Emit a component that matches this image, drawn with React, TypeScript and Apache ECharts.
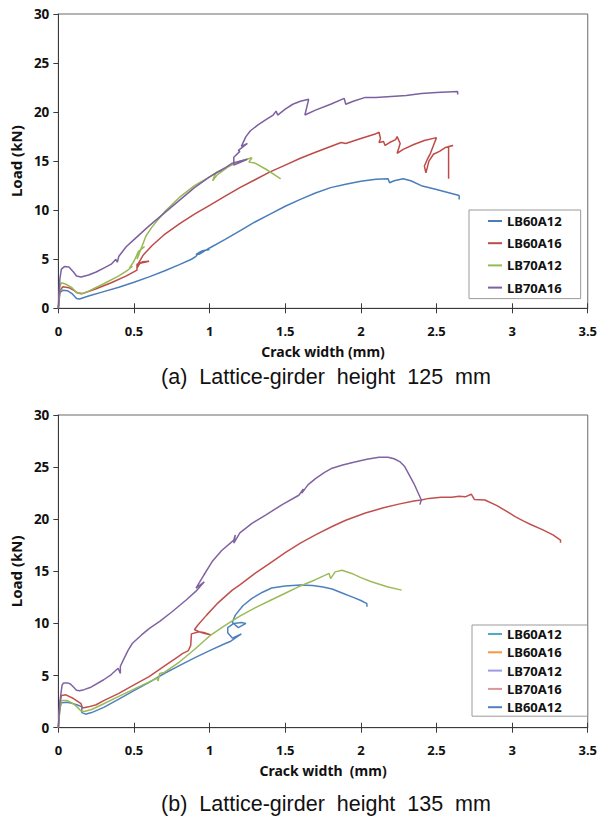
import React, { useEffect, useRef } from "react";
import * as echarts from "echarts";

// ---------- data: chart (a) height 125 mm ----------
const xTicks = [0, 0.5, 1, 1.5, 2, 2.5, 3, 3.5];
const yTicks = [0, 5, 10, 15, 20, 25, 30];

const topNames = ["LB60A12", "LB60A16", "LB70A12", "LB70A16"];
const topColors = ["#4a7ebb", "#be4b48", "#98b954", "#7d60a0"];

const topLB60A12: number[][] = [
  [0, 0], [0.01, 1.6], [0.03, 1.85], [0.06, 1.8], [0.09, 1.5], [0.12, 1.0], [0.14, 0.95], [0.2, 1.25],
  [0.3, 1.7], [0.4, 2.15], [0.5, 2.65], [0.6, 3.2], [0.7, 3.8], [0.8, 4.45], [0.88, 5.0], [0.91, 5.3],
  [0.93, 5.7], [0.96, 5.9], [1.0, 6.0], [0.95, 5.85], [0.91, 5.5], [0.93, 5.5], [1.0, 6.15], [1.1, 7.0],
  [1.2, 7.9], [1.3, 8.8], [1.4, 9.6], [1.5, 10.4], [1.6, 11.1], [1.7, 11.75], [1.8, 12.3], [1.9, 12.65],
  [2.0, 12.95], [2.1, 13.15], [2.18, 13.2], [2.19, 12.8], [2.22, 13.0], [2.28, 13.2], [2.33, 13.0],
  [2.4, 12.5], [2.5, 12.1], [2.6, 11.7], [2.65, 11.5], [2.65, 11.1],
];
const topLB60A16: number[][] = [
  [0, 0], [0.01, 1.8], [0.03, 2.2], [0.07, 2.1], [0.1, 1.85], [0.13, 1.55], [0.16, 1.5], [0.25, 2.0],
  [0.35, 2.6], [0.45, 3.3], [0.52, 3.9], [0.52, 4.5], [0.56, 4.75], [0.6, 4.8], [0.54, 4.6], [0.52, 4.1],
  [0.53, 4.6], [0.56, 5.4], [0.62, 6.4], [0.7, 7.5], [0.8, 8.6], [0.9, 9.6], [1.0, 10.5], [1.1, 11.4],
  [1.2, 12.3], [1.3, 13.1], [1.4, 13.9], [1.5, 14.6], [1.6, 15.3], [1.7, 15.9], [1.8, 16.5], [1.87, 16.9],
  [1.9, 16.8], [2.0, 17.3], [2.1, 17.8], [2.12, 17.95], [2.13, 17.3], [2.12, 16.9], [2.15, 17.0],
  [2.16, 16.6], [2.19, 16.9], [2.23, 17.2], [2.24, 17.5], [2.26, 16.8], [2.24, 15.8], [2.28, 16.2],
  [2.35, 16.7], [2.42, 17.1], [2.5, 17.4], [2.48, 16.6], [2.46, 15.8], [2.44, 15.2], [2.42, 14.5],
  [2.43, 13.8], [2.45, 15.0], [2.48, 15.7], [2.52, 16.0], [2.56, 16.4], [2.61, 16.6], [2.58, 16.5],
  [2.58, 13.2],
];
const topLB70A12: number[][] = [
  [0, 0], [0.01, 2.2], [0.02, 2.6], [0.05, 2.45], [0.09, 2.1], [0.12, 1.6], [0.15, 1.45], [0.2, 1.75],
  [0.3, 2.5], [0.4, 3.3], [0.46, 3.9], [0.49, 4.3], [0.47, 4.1], [0.5, 4.8], [0.53, 5.8], [0.57, 6.3],
  [0.54, 5.9], [0.52, 5.0], [0.55, 6.2], [0.58, 7.4], [0.62, 8.3], [0.7, 9.8], [0.8, 11.3], [0.9, 12.5],
  [1.0, 13.4], [1.05, 13.9], [1.08, 14.1], [1.04, 13.8], [1.02, 13.0], [1.05, 13.6], [1.12, 14.4],
  [1.2, 15.0], [1.28, 15.35], [1.26, 14.9], [1.3, 14.8], [1.37, 14.2], [1.43, 13.6], [1.47, 13.2],
];
const topLB70A16: number[][] = [
  [0, 0], [0.01, 3.0], [0.02, 4.0], [0.04, 4.25], [0.07, 4.2], [0.1, 3.7], [0.12, 3.3], [0.15, 3.2],
  [0.2, 3.4], [0.25, 3.7], [0.3, 4.1], [0.35, 4.5], [0.38, 5.0], [0.39, 4.7], [0.4, 5.3], [0.45, 6.3],
  [0.5, 7.0], [0.6, 8.4], [0.7, 9.7], [0.8, 11.0], [0.9, 12.3], [1.0, 13.4], [1.1, 14.3], [1.15, 14.8],
  [1.2, 15.0], [1.25, 15.2], [1.16, 14.6], [1.16, 15.4], [1.2, 16.0], [1.19, 16.1], [1.25, 16.8],
  [1.21, 16.5], [1.24, 17.5], [1.27, 18.1], [1.32, 18.7], [1.37, 19.2], [1.42, 19.7], [1.44, 20.1],
  [1.45, 19.7], [1.5, 20.3], [1.55, 20.8], [1.6, 21.1], [1.655, 21.3], [1.63, 19.7], [1.7, 20.2],
  [1.8, 20.8], [1.89, 21.4], [1.9, 20.8], [1.95, 21.1], [2.03, 21.5], [2.1, 21.5], [2.2, 21.6],
  [2.3, 21.7], [2.4, 21.9], [2.5, 22.0], [2.64, 22.1], [2.64, 21.8],
];

// ---------- data: chart (b) height 135 mm ----------
const bottomLegendNames = ["LB60A12", "LB60A16", "LB70A12", "LB70A16", "LB60A12"];
const bottomLegendColors = ["#4bacc6", "#f79646", "#9b9be3", "#dc9795", "#4f81bd"];
const bottomCurveColors = ["#4f81bd", "#c0504d", "#9bbb59", "#8064a2"];

const botBlue: number[][] = [
  [0, 0], [0.01, 1.8], [0.02, 2.4], [0.06, 2.45], [0.1, 2.3], [0.14, 2.1], [0.155, 2.0], [0.155, 1.45],
  [0.18, 1.3], [0.22, 1.45], [0.3, 1.95], [0.4, 2.75], [0.5, 3.55], [0.6, 4.35], [0.7, 5.2],
  [0.8, 5.95], [0.9, 6.7], [1.0, 7.4], [1.1, 8.05], [1.14, 8.3], [1.21, 9.0], [1.15, 8.6], [1.12, 9.1],
  [1.12, 9.6], [1.16, 10.0], [1.21, 10.1], [1.24, 10.0], [1.19, 9.6], [1.15, 10.1], [1.17, 10.8],
  [1.22, 11.7], [1.28, 12.4], [1.35, 13.0], [1.41, 13.4], [1.5, 13.6], [1.6, 13.7], [1.68, 13.65],
  [1.75, 13.5], [1.81, 13.3], [1.88, 12.9], [1.95, 12.5], [2.0, 12.2], [2.04, 11.9], [2.04, 11.6],
];
const botRed: number[][] = [
  [0, 0], [0.01, 2.2], [0.02, 3.1], [0.05, 3.15], [0.1, 2.8], [0.15, 2.3], [0.16, 1.9], [0.2, 2.0],
  [0.25, 2.2], [0.3, 2.6], [0.4, 3.3], [0.5, 4.1], [0.6, 4.9], [0.7, 5.9], [0.8, 6.9], [0.82, 7.1],
  [0.86, 7.4], [0.875, 7.9], [0.88, 9.0], [0.93, 9.2], [0.97, 9.1], [1.01, 8.9], [0.95, 9.1], [0.9, 9.4],
  [0.92, 9.8], [0.98, 10.8], [1.05, 11.9], [1.15, 13.2], [1.2, 13.7], [1.3, 14.8], [1.4, 15.8],
  [1.5, 16.8], [1.6, 17.7], [1.7, 18.5], [1.81, 19.3], [1.9, 19.9], [2.03, 20.6], [2.15, 21.1],
  [2.25, 21.45], [2.35, 21.75], [2.4, 21.85], [2.45, 22.0], [2.53, 22.1], [2.6, 22.1], [2.65, 22.2],
  [2.69, 22.15], [2.73, 22.4], [2.75, 21.9], [2.82, 21.85], [2.9, 21.3], [2.97, 20.7], [3.02, 20.25],
  [3.08, 19.8], [3.13, 19.45], [3.2, 19.0], [3.27, 18.5], [3.32, 18.0], [3.32, 17.75],
];
const botGreen: number[][] = [
  [0, 0], [0.01, 1.9], [0.02, 2.6], [0.06, 2.6], [0.1, 2.3], [0.13, 1.9], [0.15, 1.6], [0.17, 1.55],
  [0.22, 1.75], [0.3, 2.3], [0.4, 3.0], [0.5, 3.7], [0.6, 4.4], [0.65, 4.75], [0.66, 4.5], [0.67, 5.2],
  [0.7, 5.3], [0.8, 6.3], [0.9, 7.5], [1.0, 8.8], [1.1, 9.8], [1.2, 10.7], [1.3, 11.5], [1.4, 12.2],
  [1.5, 12.9], [1.6, 13.6], [1.7, 14.2], [1.79, 14.8], [1.8, 14.3], [1.83, 14.95], [1.875, 15.1],
  [1.94, 14.8], [2.0, 14.4], [2.07, 14.0], [2.18, 13.5], [2.27, 13.2],
];
const botPurple: number[][] = [
  [0, 0], [0.01, 2.5], [0.025, 4.1], [0.035, 4.3], [0.06, 4.3], [0.08, 4.2], [0.1, 3.9], [0.12, 3.6],
  [0.14, 3.55], [0.17, 3.65], [0.21, 3.85], [0.3, 4.6], [0.35, 5.1], [0.395, 5.7], [0.41, 5.2],
  [0.41, 5.9], [0.43, 6.5], [0.46, 7.4], [0.49, 8.1], [0.55, 8.9], [0.6, 9.5], [0.67, 10.2],
  [0.75, 11.1], [0.845, 12.25], [0.91, 13.1], [0.965, 14.0], [0.93, 13.6], [0.91, 13.4], [0.96, 14.6],
  [1.02, 16.0], [1.08, 17.0], [1.16, 18.0], [1.17, 18.5], [1.16, 17.7], [1.2, 18.7], [1.28, 19.6],
  [1.37, 20.4], [1.48, 21.4], [1.59, 22.3], [1.62, 22.9], [1.61, 22.5], [1.65, 23.3], [1.7, 23.9],
  [1.76, 24.5], [1.81, 24.9], [1.88, 25.2], [1.96, 25.5], [2.04, 25.75], [2.12, 25.95], [2.18, 25.95],
  [2.22, 25.8], [2.26, 25.5], [2.29, 25.05], [2.35, 23.45], [2.4, 21.85], [2.39, 21.4],
];

const captions = ["(a)  Lattice-girder  height  125  mm", "(b)  Lattice-girder  height  135  mm"];
const xTitles = ["Crack width (mm)", "Crack width  (mm)"];
const yTitle = "Load (kN)";

const FONT = "'Noto Sans', 'Open Sans', sans-serif";

export default function App() {
  const ref = useRef<HTMLDivElement>(null);
  useEffect(() => {
    if (!ref.current) return;
    const chart = echarts.init(ref.current, undefined, { renderer: "svg" });
    const grids = [
      { left: 58.3, top: 14, width: 532.7, height: 294.3 },
      { left: 58.3, top: 415, width: 532.7, height: 312.7 },
    ];
    const xMain = (gi: number) => ({
      type: "value",
      gridIndex: gi,
      min: xTicks[0],
      max: xTicks[xTicks.length - 1],
      interval: 0.5,
      position: "bottom",
      name: xTitles[gi],
      nameLocation: "middle",
      nameGap: 36,
      nameTextStyle: { fontFamily: FONT, fontWeight: "bold", fontSize: 14, color: "#111" },
      axisLine: { show: true, onZero: false, lineStyle: { color: "#3a3a3a", width: 1 } },
      axisTick: { show: true, inside: false, length: 5, lineStyle: { color: "#3a3a3a" } },
      axisLabel: { fontFamily: FONT, fontWeight: "bold", fontSize: 13, color: "#111", margin: 16 },
      splitLine: { show: false },
    });
    const xInner = (gi: number) => ({
      type: "value",
      gridIndex: gi,
      min: xTicks[0],
      max: xTicks[xTicks.length - 1],
      interval: 0.5,
      position: "bottom",
      axisLine: { show: false },
      axisTick: { show: true, inside: true, length: 5, lineStyle: { color: "#3a3a3a" } },
      axisLabel: { show: false },
      splitLine: { show: false },
    });
    const yMain = (gi: number) => ({
      type: "value",
      gridIndex: gi,
      min: yTicks[0],
      max: yTicks[yTicks.length - 1],
      interval: 5,
      name: yTitle,
      nameLocation: "middle",
      nameRotate: 90,
      nameGap: 32,
      nameTextStyle: { fontFamily: FONT, fontWeight: "bold", fontSize: 15, color: "#111" },
      axisLine: { show: true, onZero: false, lineStyle: { color: "#3a3a3a", width: 1 } },
      axisTick: { show: true, inside: false, length: 5, lineStyle: { color: "#3a3a3a" } },
      axisLabel: { fontFamily: FONT, fontWeight: "bold", fontSize: 13.5, color: "#111", margin: 9 },
      splitLine: { show: false },
    });

    const lineSeries = (name: string, data: number[][], color: string, gi: number) => ({
      type: "line",
      name,
      xAxisIndex: gi,
      yAxisIndex: gi,
      data,
      showSymbol: false,
      symbol: "none",
      color,
      lineStyle: { color, width: 1.5 },
      emphasis: { disabled: true },
    });

    const topData = [topLB60A12, topLB60A16, topLB70A12, topLB70A16];
    const botData = [botBlue, botRed, botGreen, botPurple];
    const botLegendKeys = bottomLegendNames.map((n, i) => `b${i}|${n}`);

    const series: any[] = [];
    topData.forEach((d, i) => series.push(lineSeries(topNames[i], d, topColors[i], 0)));
    botData.forEach((d, i) => series.push(lineSeries(`curve-b${i}`, d, bottomCurveColors[i], 1)));
    botLegendKeys.forEach((k, i) => series.push(lineSeries(k, [], bottomLegendColors[i], 1)));

    const legendText = { fontFamily: FONT, fontWeight: "bold", fontSize: 13, color: "#111", lineHeight: 14 };

    chart.setOption({
      animation: false,
      backgroundColor: "#ffffff",
      grid: grids.map((g) => ({ ...g, show: true, borderColor: "#6a6a6a", borderWidth: 1, backgroundColor: "transparent" })),
      xAxis: [xMain(0), xMain(1), xInner(0), xInner(1)],
      yAxis: [yMain(0), yMain(1)],
      legend: [
        {
          data: topNames,
          orient: "vertical",
          left: 469,
          top: 210,
          padding: [4, 19, 4, 19],
          itemGap: 8.2,
          itemWidth: 14,
          itemHeight: 2,
          icon: "rect",
          borderColor: "#9a9a9a",
          borderWidth: 1,
          selectedMode: false,
          textStyle: legendText,
        },
        {
          data: botLegendKeys.map((k, i) => ({ name: k, itemStyle: { color: bottomLegendColors[i] } })),
          orient: "vertical",
          left: 472,
          top: 625,
          padding: [2, 26, 2, 16],
          itemGap: 4.3,
          itemWidth: 14,
          itemHeight: 2,
          icon: "rect",
          borderColor: "#9a9a9a",
          borderWidth: 1,
          selectedMode: false,
          formatter: (name: string) => name.split("|")[1],
          textStyle: legendText,
        },
      ],
      graphic: captions.map((c, i) => ({
        type: "text",
        x: 326,
        y: i === 0 ? 377 : 804,
        silent: true,
        style: {
          text: c,
          font: "21.5px 'Liberation Sans', Arial, sans-serif",
          fill: "#111",
          textAlign: "center",
          textVerticalAlign: "middle",
        },
      })),
      series,
    });
    return () => chart.dispose();
  }, []);
  return <div ref={ref} style={{ position: "fixed", left: 0, top: 0, width: 600, height: 819 }} />;
}
